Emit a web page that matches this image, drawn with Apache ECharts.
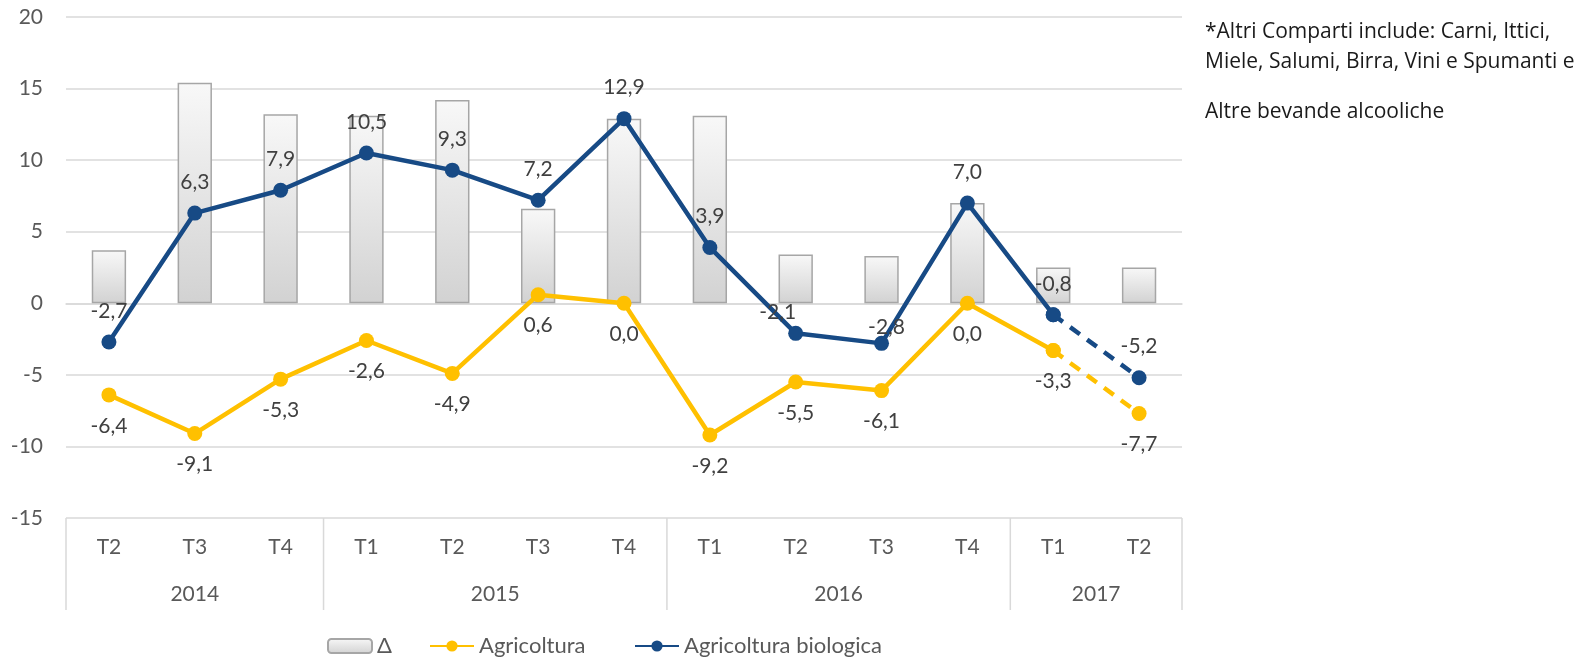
<!DOCTYPE html>
<html>
<head>
<meta charset="utf-8">
<title>Agricoltura vs Agricoltura biologica</title>
<script src="https://cdn.jsdelivr.net/npm/echarts@6/dist/echarts.min.js"></script>
<style>
  html, body { margin: 0; padding: 0; background: #ffffff; }
  #chart { width: 1588px; height: 659px; }
</style>
</head>
<body>
<div id="chart"></div>
<script>
// Quarters and the years they belong to
const quarters = ['T2', 'T3', 'T4', 'T1', 'T2', 'T3', 'T4', 'T1', 'T2', 'T3', 'T4', 'T1', 'T2'];
const years = ['2014', '2015', '2016', '2017'];
const quartersPerYear = [3, 4, 4, 2];

// Series values (%)
const delta = [3.7, 15.4, 13.2, 13.1, 14.2, 6.6, 12.9, 13.1, 3.4, 3.3, 7.0, 2.5, 2.5];
const agricoltura = [-6.4, -9.1, -5.3, -2.6, -4.9, 0.6, 0.0, -9.2, -5.5, -6.1, 0.0, -3.3, -7.7];
const biologica = [-2.7, 6.3, 7.9, 10.5, 9.3, 7.2, 12.9, 3.9, -2.1, -2.8, 7.0, -0.8, -5.2];

// Value axis ticks
const yTicks = [-15, -10, -5, 0, 5, 10, 15, 20];

// Legend entries
const legendNames = ['Δ', 'Agricoltura', 'Agricoltura biologica'];

// Index from which the last segment is an estimate (dashed)
const estimateFrom = 11;

const FONT = 'Lato, "Noto Sans", sans-serif';
const NOTE_FONT = '"Open Sans", "Noto Sans", sans-serif';
const BLUE = '#174a85';
const YELLOW = '#ffc000';
const GRID_COLOR = '#d9d9d9';

// Year block boundaries and centres on a 0..N scale
const boundaries = [0];
quartersPerYear.forEach(n => boundaries.push(boundaries[boundaries.length - 1] + n));
const yearCentres = {};
years.forEach((y, i) => { yearCentres[(boundaries[i] + boundaries[i + 1]) / 2] = y; });

const fmt = v => (v == null ? '' : v.toFixed(1).replace('.', ','));

// Per-point label adjustments
const labelShift = { 8: [-18, 10], 9: [5, 15] };

function solidPart(values, labelPos) {
  return values.map((v, i) => {
    if (i > estimateFrom) return null;
    const item = { value: v };
    if (labelShift[i] && labelPos === 'top') item.label = { offset: labelShift[i] };
    return item;
  });
}
function dashedPart(values) {
  return values.map((v, i) => {
    if (i < estimateFrom) return null;
    if (i === values.length - 1) return { value: v, label: { show: true } };
    return { value: v };
  });
}

const dataLabel = (pos) => ({
  show: true,
  position: pos,
  distance: 13,
  color: '#404040',
  fontFamily: FONT,
  fontSize: 21,
  formatter: p => fmt(p.value)
});

const LINE_W = 4.5;
const DOT = 15;

// one legend block per entry, placed left to right
const legendLeft = [322, 424, 629];
const legends = legendNames.map((name, i) => ({
  left: legendLeft[i],
  top: 630,
  itemWidth: 44,
  itemHeight: 14,
  itemGap: 0,
  textStyle: { color: '#595959', fontFamily: FONT, fontSize: 22 },
  data: [name]
}));

const chart = echarts.init(document.getElementById('chart'), null, { renderer: 'canvas' });

chart.setOption({
  animation: false,
  backgroundColor: '#ffffff',
  grid: { left: 66, right: 406, top: 17, bottom: 141, containLabel: false },
  legend: legends,
  xAxis: [
    {
      type: 'category',
      data: quarters,
      boundaryGap: true,
      axisLine: { show: true, lineStyle: { color: GRID_COLOR, width: 1.5 } },
      axisTick: { show: false },
      axisLabel: { color: '#595959', fontFamily: FONT, fontSize: 21, margin: 19, interval: 0 },
      splitLine: { show: false }
    },
    {
      type: 'value',
      position: 'bottom',
      min: 0,
      max: quarters.length,
      interval: 0.5,
      axisLine: { show: false },
      axisTick: { show: false },
      splitLine: { show: false },
      axisLabel: {
        color: '#595959', fontFamily: FONT, fontSize: 21, margin: 66,
        showMinLabel: true, showMaxLabel: true,
        formatter: v => yearCentres[v] || ''
      }
    }
  ],
  yAxis: {
    type: 'value',
    min: yTicks[0],
    max: yTicks[yTicks.length - 1],
    interval: 5,
    axisLine: { show: false },
    axisTick: { show: false },
    axisLabel: { color: '#595959', fontFamily: FONT, fontSize: 21, margin: 23 },
    splitLine: { lineStyle: { color: GRID_COLOR, width: 1.5 } }
  },
  series: [
    {
      name: legendNames[0],
      type: 'bar',
      data: delta,
      barWidth: '40%',
      itemStyle: {
        color: new echarts.graphic.LinearGradient(0, 0, 0, 1, [
          { offset: 0, color: '#f8f8f8' },
          { offset: 1, color: '#d2d2d2' }
        ]),
        borderColor: '#a6a6a6',
        borderWidth: 1.5
      },
      z: 1
    },
    {
      name: legendNames[1],
      type: 'line',
      data: solidPart(agricoltura, 'bottom'),
      symbol: 'circle',
      symbolSize: DOT,
      lineStyle: { color: YELLOW, width: LINE_W },
      itemStyle: { color: YELLOW },
      label: dataLabel('bottom'),
      z: 3
    },
    {
      name: legendNames[1],
      type: 'line',
      data: dashedPart(agricoltura),
      symbol: 'circle',
      symbolSize: DOT,
      lineStyle: { color: YELLOW, width: LINE_W, type: [12, 9] },
      itemStyle: { color: YELLOW },
      label: Object.assign(dataLabel('bottom'), { show: false }),
      z: 3
    },
    {
      name: legendNames[2],
      type: 'line',
      data: solidPart(biologica, 'top'),
      symbol: 'circle',
      symbolSize: DOT,
      lineStyle: { color: BLUE, width: LINE_W },
      itemStyle: { color: BLUE },
      label: dataLabel('top'),
      z: 4
    },
    {
      name: legendNames[2],
      type: 'line',
      data: dashedPart(biologica),
      symbol: 'circle',
      symbolSize: DOT,
      lineStyle: { color: BLUE, width: LINE_W, type: [12, 9] },
      itemStyle: { color: BLUE },
      label: Object.assign(dataLabel('top'), { show: false }),
      z: 4
    },
    {
      // vertical separators of the year blocks under the category axis
      name: 'separatori',
      type: 'custom',
      xAxisIndex: 1,
      yAxisIndex: 0,
      clip: false,
      silent: true,
      data: boundaries.map(b => [b]),
      encode: { x: 0 },
      renderItem: (params, api) => {
        const p = api.coord([api.value(0), yTicks[0]]);
        return {
          type: 'line',
          shape: { x1: p[0], y1: p[1], x2: p[0], y2: p[1] + 92 },
          style: { stroke: GRID_COLOR, lineWidth: 1.5 }
        };
      }
    }
  ],
  graphic: [
    {
      type: 'text',
      left: 1205,
      top: 17,
      style: {
        text: '*Altri Comparti include: Carni, Ittici,\nMiele, Salumi, Birra, Vini e Spumanti e',
        fill: '#1a1a1a',
        fontFamily: NOTE_FONT,
        fontSize: 21,
        lineHeight: 30
      }
    },
    {
      type: 'text',
      left: 1205,
      top: 97,
      style: {
        text: 'Altre bevande alcooliche',
        fill: '#1a1a1a',
        fontFamily: NOTE_FONT,
        fontSize: 21,
        lineHeight: 30
      }
    }
  ]
});
</script>
</body>
</html>
